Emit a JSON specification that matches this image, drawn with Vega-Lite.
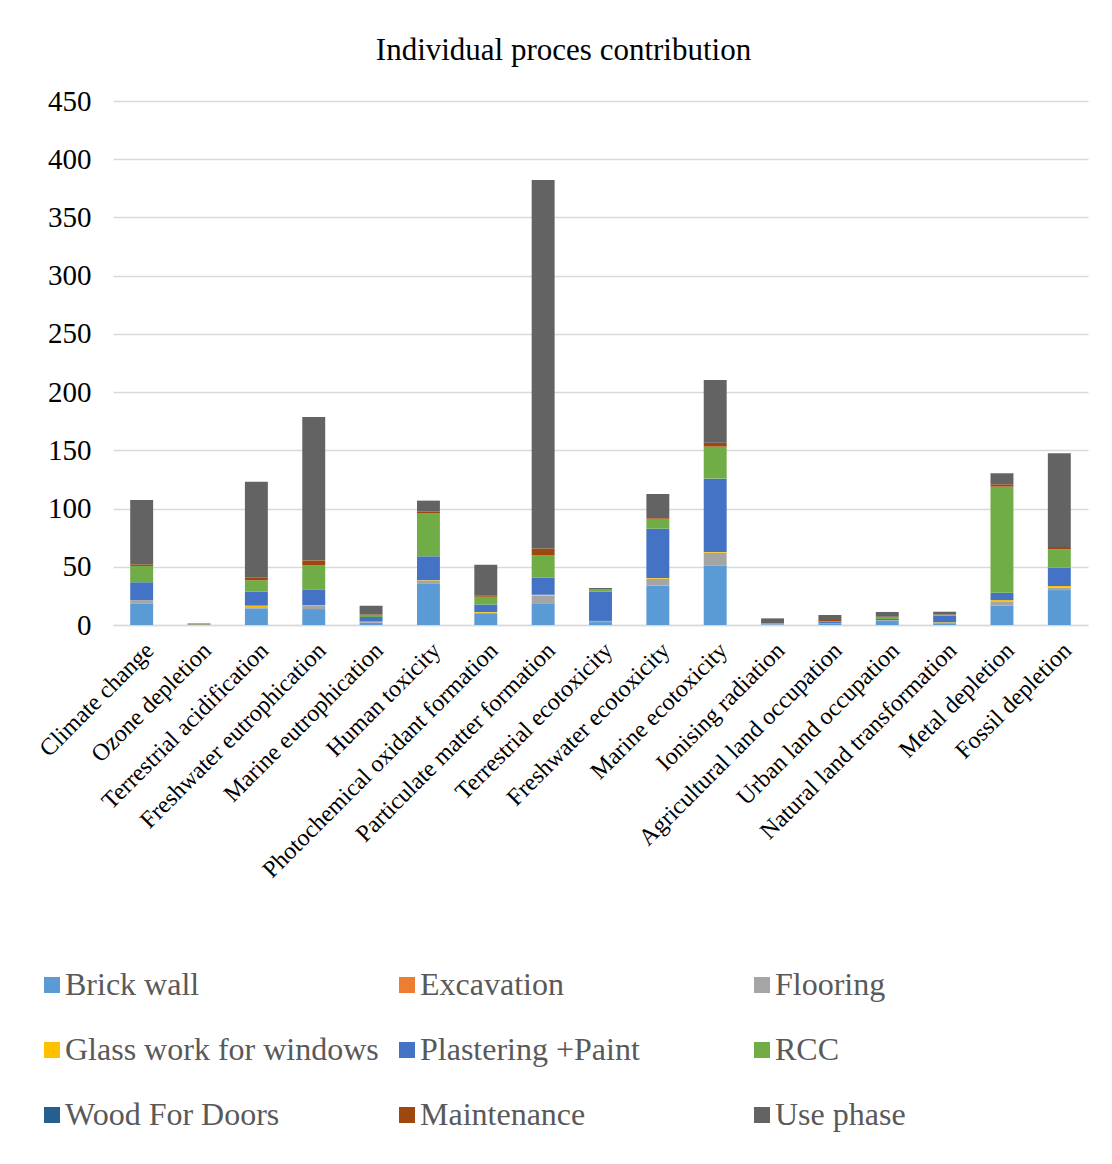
{
  "$schema": "https://vega.github.io/schema/vega-lite/v6.json",
  "width": 975,
  "height": 524,
  "autosize": "none",
  "padding": {"left": 113, "top": 101, "right": 24, "bottom": 539},
  "background": "white",
  "title": {
    "text": "Individual proces contribution",
    "font": "Liberation Serif",
    "fontSize": 31,
    "fontWeight": "normal",
    "color": "#000000",
    "anchor": "middle",
    "dx": -37,
    "offset": 20
  },
  "data": {
    "values": [
      {"category": "Climate change", "Brick wall": 18.6, "Excavation": 0, "Flooring": 2.3, "Glass work  for windows": 0.2, "Plastering +Paint": 15.6, "RCC": 14.0, "Wood For Doors": 0, "Maintenance": 1.4, "Use phase": 55.2},
      {"category": "Ozone depletion", "Brick wall": 0.2, "Excavation": 0.05, "Flooring": 0.1, "Glass work  for windows": 0, "Plastering +Paint": 0.1, "RCC": 0.2, "Wood For Doors": 0, "Maintenance": 0.3, "Use phase": 0.4},
      {"category": "Terrestrial acidification", "Brick wall": 14.3, "Excavation": 0, "Flooring": 1.0, "Glass work  for windows": 1.3, "Plastering +Paint": 12.0, "RCC": 9.8, "Wood For Doors": 0, "Maintenance": 2.2, "Use phase": 82.4},
      {"category": "Freshwater eutrophication", "Brick wall": 13.7, "Excavation": 0, "Flooring": 3.2, "Glass work  for windows": 0.2, "Plastering +Paint": 13.5, "RCC": 20.9, "Wood For Doors": 0, "Maintenance": 4.0, "Use phase": 123.1},
      {"category": "Marine eutrophication", "Brick wall": 2.0, "Excavation": 0, "Flooring": 0.9, "Glass work  for windows": 0.1, "Plastering +Paint": 3.9, "RCC": 1.7, "Wood For Doors": 0, "Maintenance": 0.4, "Use phase": 7.5},
      {"category": "Human toxicity", "Brick wall": 35.8, "Excavation": 0, "Flooring": 2.5, "Glass work  for windows": 0.3, "Plastering +Paint": 20.4, "RCC": 37.2, "Wood For Doors": 0, "Maintenance": 1.1, "Use phase": 9.5},
      {"category": "Photochemical oxidant formation", "Brick wall": 10.0, "Excavation": 0, "Flooring": 0.6, "Glass work  for windows": 0.6, "Plastering +Paint": 6.3, "RCC": 6.8, "Wood For Doors": 0, "Maintenance": 1.2, "Use phase": 26.3},
      {"category": "Particulate matter formation", "Brick wall": 18.6, "Excavation": 0, "Flooring": 6.6, "Glass work  for windows": 0.8, "Plastering +Paint": 14.6, "RCC": 19.5, "Wood For Doors": 0, "Maintenance": 5.7, "Use phase": 316.4},
      {"category": "Terrestrial ecotoxicity", "Brick wall": 2.5, "Excavation": 0, "Flooring": 0.9, "Glass work  for windows": 0.1, "Plastering +Paint": 25.1, "RCC": 1.7, "Wood For Doors": 0, "Maintenance": 0.3, "Use phase": 1.2},
      {"category": "Freshwater ecotoxicity", "Brick wall": 33.8, "Excavation": 0, "Flooring": 6.0, "Glass work  for windows": 0.6, "Plastering +Paint": 42.3, "RCC": 8.6, "Wood For Doors": 0, "Maintenance": 1.4, "Use phase": 19.8},
      {"category": "Marine ecotoxicity", "Brick wall": 51.0, "Excavation": 0, "Flooring": 11.1, "Glass work  for windows": 0.6, "Plastering +Paint": 63.0, "RCC": 27.5, "Wood For Doors": 0, "Maintenance": 3.4, "Use phase": 53.8},
      {"category": "Ionising radiation", "Brick wall": 0.5, "Excavation": 0, "Flooring": 0.3, "Glass work  for windows": 0, "Plastering +Paint": 0.3, "RCC": 0.4, "Wood For Doors": 0, "Maintenance": 0.2, "Use phase": 4.0},
      {"category": "Agricultural land occupation", "Brick wall": 1.2, "Excavation": 0, "Flooring": 0.2, "Glass work  for windows": 0, "Plastering +Paint": 1.7, "RCC": 0.3, "Wood For Doors": 0, "Maintenance": 0.9, "Use phase": 4.3},
      {"category": "Urban land occupation", "Brick wall": 3.6, "Excavation": 0, "Flooring": 0.6, "Glass work  for windows": 0, "Plastering +Paint": 1.0, "RCC": 1.7, "Wood For Doors": 0, "Maintenance": 0.2, "Use phase": 4.1},
      {"category": "Natural land transformation", "Brick wall": 1.5, "Excavation": 0, "Flooring": 0.3, "Glass work  for windows": 0.5, "Plastering +Paint": 5.7, "RCC": 0.7, "Wood For Doors": 0, "Maintenance": 0.3, "Use phase": 2.4},
      {"category": "Metal depletion", "Brick wall": 16.6, "Excavation": 0, "Flooring": 3.7, "Glass work  for windows": 1.1, "Plastering +Paint": 6.3, "RCC": 91.1, "Wood For Doors": 0, "Maintenance": 2.0, "Use phase": 9.5},
      {"category": "Fossil depletion", "Brick wall": 30.0, "Excavation": 0, "Flooring": 2.0, "Glass work  for windows": 1.5, "Plastering +Paint": 15.7, "RCC": 15.8, "Wood For Doors": 0, "Maintenance": 2.0, "Use phase": 80.4}
    ]
  },
  "transform": [
    {"fold": ["Brick wall", "Excavation", "Flooring", "Glass work  for windows", "Plastering +Paint", "RCC", "Wood For Doors", "Maintenance", "Use phase"], "as": ["process", "value"]},
    {"calculate": "indexof(['Brick wall', 'Excavation', 'Flooring', 'Glass work  for windows', 'Plastering +Paint', 'RCC', 'Wood For Doors', 'Maintenance', 'Use phase'], datum.process)", "as": "ord"}
  ],
  "mark": {"type": "bar"},
  "encoding": {
    "x": {
      "field": "category",
      "type": "nominal",
      "sort": null,
      "scale": {"paddingInner": 0.6, "paddingOuter": 0.3},
      "axis": {
        "title": null,
        "labelAngle": -45,
        "labelAlign": "right",
        "labelBaseline": "top",
        "labelFont": "Liberation Serif",
        "labelFontSize": 24,
        "labelColor": "#000000",
        "labelPadding": 13,
        "labelLimit": 600,
        "ticks": false,
        "domainColor": "#d9d9d9",
        "domainWidth": 1.5
      }
    },
    "y": {
      "field": "value",
      "type": "quantitative",
      "stack": "zero",
      "scale": {"domain": [0, 450], "nice": false},
      "axis": {
        "title": null,
        "values": [0, 50, 100, 150, 200, 250, 300, 350, 400, 450],
        "labelFont": "Liberation Serif",
        "labelFontSize": 29,
        "labelColor": "#000000",
        "labelPadding": 22,
        "ticks": false,
        "domain": false,
        "gridColor": "#d9d9d9",
        "gridWidth": 1.5
      }
    },
    "color": {
      "field": "process",
      "type": "nominal",
      "scale": {
        "domain": ["Brick wall", "Excavation", "Flooring", "Glass work  for windows", "Plastering +Paint", "RCC", "Wood For Doors", "Maintenance", "Use phase"],
        "range": ["#5B9BD5", "#ED7D31", "#A5A5A5", "#FFC000", "#4472C4", "#70AD47", "#255E91", "#9E480E", "#636363"]
      },
      "legend": {
        "orient": "none",
        "direction": "horizontal",
        "legendX": -77,
        "legendY": 868,
        "padding": 0,
        "columns": 3,
        "title": null,
        "symbolType": "square",
        "symbolSize": 256,
        "symbolStrokeWidth": 0,
        "labelFont": "Liberation Serif",
        "labelFontSize": 32,
        "labelColor": "#595959",
        "labelOffset": -3,
        "labelLimit": 600,
        "gridAlign": "all",
        "columnPadding": 4,
        "rowPadding": 33
      }
    },
    "order": {"field": "ord", "type": "quantitative"}
  },
  "config": {
    "font": "Liberation Serif",
    "view": {"stroke": null},
    "axis": {"labelFont": "Liberation Serif"},
    "legend": {"labelFont": "Liberation Serif"}
  }
}
